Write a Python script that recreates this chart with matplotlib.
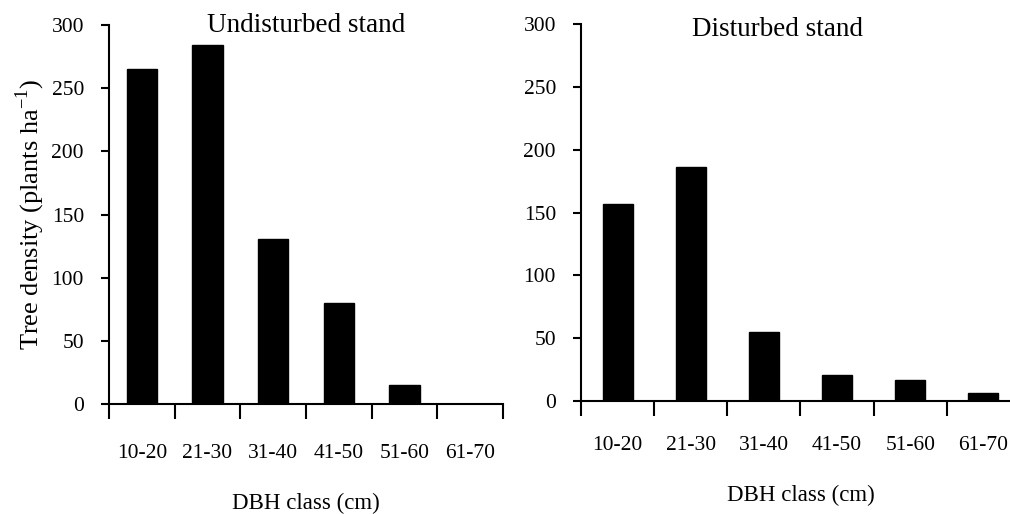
import matplotlib
matplotlib.use('Agg')
import matplotlib.pyplot as plt
import numpy as np

plt.rcParams['font.family'] = 'Liberation Serif'
plt.rcParams['mathtext.fontset'] = 'custom'
plt.rcParams['mathtext.rm'] = 'Liberation Serif'

classes = ['10-20', '21-30', '31-40', '41-50', '51-60', '61-70']
undisturbed = [265, 284, 131, 80, 15, 0]
disturbed = [157, 186, 55, 21, 17, 6]

fig = plt.figure(figsize=(10.1, 5.14), dpi=100)
ax1 = fig.add_axes([0.1079, 0.214, 0.390, 0.737])
ax2 = fig.add_axes([0.5752, 0.2198, 0.4347, 0.7335])

def style(ax, values, width, pad, labelpad):
    x = np.arange(len(values)) + 0.5
    ax.bar(x, values, width=width, color='black', edgecolor='black')
    ax.set_xlim(0, len(values))
    ax.set_ylim(0, 300)
    ax.set_yticks(range(0, 301, 50))
    ax.set_xticks(np.arange(len(values) + 1))
    ax.set_xticklabels([])
    ax.set_xticks(x, minor=True)
    ax.set_xticklabels(classes, minor=True)
    ax.tick_params(axis='x', which='major', direction='out', length=11, width=1.5)
    ax.tick_params(axis='x', which='minor', length=0, pad=pad, labelsize=15.5)
    ax.tick_params(axis='y', direction='out', length=6, width=1.5, pad=12, labelsize=15.5)
    for s in ['top', 'right']:
        ax.spines[s].set_visible(False)
    for s in ['left', 'bottom']:
        ax.spines[s].set_linewidth(1.5)
    ax.set_xlabel('DBH class (cm)', fontsize=16.5, labelpad=labelpad)

style(ax1, undisturbed, 0.46, 29, 21)
style(ax2, disturbed, 0.41, 25, 22)

ax1.set_ylabel('Tree density (plants ha$^{-1}$)', fontsize=19, labelpad=3)
ax1.text(0.5, 1.0, 'Undisturbed stand', transform=ax1.transAxes,
         ha='center', va='center', fontsize=19.5)
ax2.text(0.448, 0.985, 'Disturbed stand', transform=ax2.transAxes,
         ha='center', va='center', fontsize=19.5)

fig.savefig('out.png', dpi=100)
